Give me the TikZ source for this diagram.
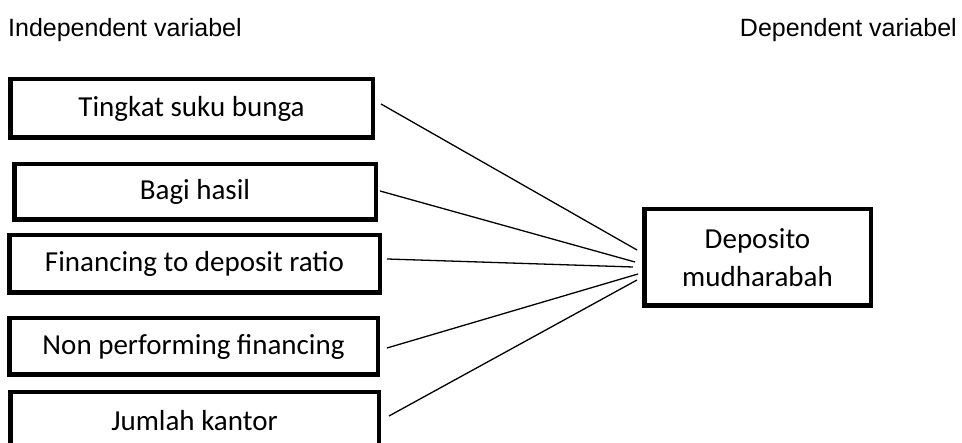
\documentclass[tikz,border=0pt]{standalone}
\usepackage{fontspec}
\setmainfont{Carlito}
\newfontfamily\hdrfont{Liberation Sans}
\begin{document}
\begin{tikzpicture}[x=1pt,y=1pt,
  varbox/.style={draw, line width=4.5pt, inner sep=0pt, align=center,
    font=\fontsize{29}{38}\selectfont},
  hdr/.style={inner sep=0pt, font=\hdrfont\fontsize{25}{30}\selectfont},
  link/.style={line width=1.3pt}]
\useasboundingbox (0,0) rectangle (962,443);
\node[hdr, anchor=base west] (h1) at (8,406) {Independent variabel};
\node[hdr, anchor=base east] (h2) at (957,406) {Dependent variabel};
\node[varbox, minimum width=362.5pt, minimum height=58.5pt] (b1) at (191.5,334.5) {Tingkat suku bunga};
\node[varbox, minimum width=361.5pt, minimum height=55.5pt] (b2) at (195,251) {Bagi hasil};
\node[varbox, minimum width=370.5pt, minimum height=57.5pt] (b3) at (194.5,179) {Financing to deposit ratio};
\node[varbox, minimum width=368.5pt, minimum height=56.5pt] (b4) at (193.5,96.5) {Non performing financing};
\node[varbox, minimum width=368.5pt, minimum height=57.5pt] (b5) at (194.5,22) {Jumlah kantor};
\node[varbox, minimum width=226.5pt, minimum height=96.5pt] (dep) at (757.5,185.5) {Deposito\\mudharabah};
\draw[link] ([shift={(6,4.5)}]b1.east) -- ([shift={(-5,7.5)}]dep.west);
\draw[link] ([shift={(2,1)}]b2.east) -- ([shift={(-7,-4.5)}]dep.west);
\draw[link] ([shift={(5,5)}]b3.east) -- ([shift={(-9,-9.5)}]dep.west);
\draw[link] ([shift={(7,-1.5)}]b4.east) -- ([shift={(-4,-16.5)}]dep.west);
\draw[link] ([shift={(8,5)}]b5.east) -- ([shift={(-5,-22.5)}]dep.west);
\end{tikzpicture}
\end{document}
